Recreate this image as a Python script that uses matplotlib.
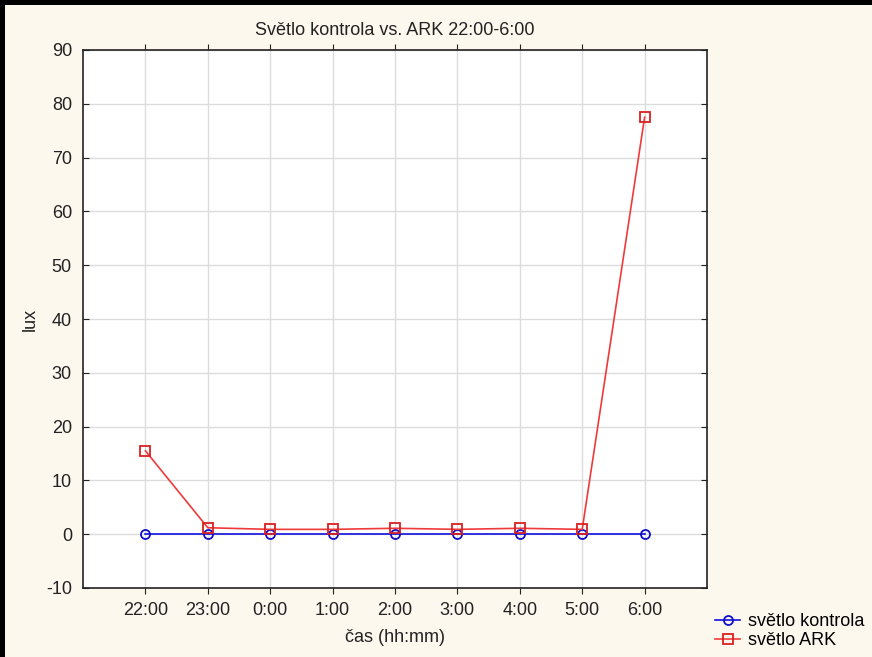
import numpy as np
import matplotlib
matplotlib.use('Agg')
import matplotlib.pyplot as plt
from matplotlib.patches import Rectangle

# data
times = ['22:00', '23:00', '0:00', '1:00', '2:00', '3:00', '4:00', '5:00', '6:00']
kontrola = [0, 0, 0, 0, 0, 0, 0, 0, 0]
ark = [15.5, 1.2, 0.9, 0.9, 1.1, 0.9, 1.1, 0.9, 77.5]
yticks = [-10, 0, 10, 20, 30, 40, 50, 60, 70, 80, 90]

plt.rcParams['font.family'] = ['Liberation Sans', 'DejaVu Sans']
plt.rcParams['axes.unicode_minus'] = False
fs = 13

W, H = 872, 657
fig = plt.figure(figsize=(W / 100, H / 100), dpi=100, facecolor='black')
# cream background, thin black border left and top
fig.patches.append(Rectangle((5 / W, 0), 1 - 5 / W, 1 - 5 / H, transform=fig.transFigure,
                             facecolor='#fdf8ee', edgecolor='none', zorder=-5))

ax = fig.add_axes([83 / W, 1 - 588 / H, (707 - 83) / W, (588 - 50) / H])
ax.set_facecolor('white')
x = np.arange(len(times))

ax.plot(x, kontrola, color='#1010e0', lw=1.2, marker='o', ms=6.5, mfc='none',
        mec='#1010c8', mew=1.3, label='světlo kontrola', zorder=3)
ax.plot(x, ark, color='#f03a3a', lw=1.2, marker='s', ms=7, mfc='none',
        mec='#d82020', mew=1.3, label='světlo ARK', zorder=4)

ax.set_xlim(-1, len(times))
ax.set_ylim(-10, 90)
ax.set_xticks(x)
ax.set_xticklabels(times)
ax.set_yticks(yticks)
ax.grid(True, color='#dcdcdc', lw=1)
ax.set_axisbelow(True)
for s in ax.spines.values():
    s.set_color('#222222')
    s.set_linewidth(1.2)
ax.tick_params(axis='both', labelsize=fs, colors='#222222', length=4)
ax.tick_params(axis='y', direction='in', right=True, pad=8)
ax.tick_params(axis='x', top=True, pad=6)

ax.set_title('Světlo kontrola vs. ARK 22:00-6:00', fontsize=fs, color='#222222', pad=11)
ax.set_xlabel('čas (hh:mm)', fontsize=fs, color='#222222', labelpad=7)
ax.set_ylabel('lux', fontsize=fs, color='#222222')
ax.yaxis.set_label_coords(-44 / 624, 0.5)

leg = fig.legend(loc='lower right', bbox_to_anchor=(1.0, 0.0), frameon=False,
                 fontsize=fs, handlelength=1.4, handletextpad=0.4,
                 labelspacing=0.1, borderpad=0.45, borderaxespad=0.0)

plt.savefig('out.png', dpi=100, facecolor=fig.get_facecolor())
